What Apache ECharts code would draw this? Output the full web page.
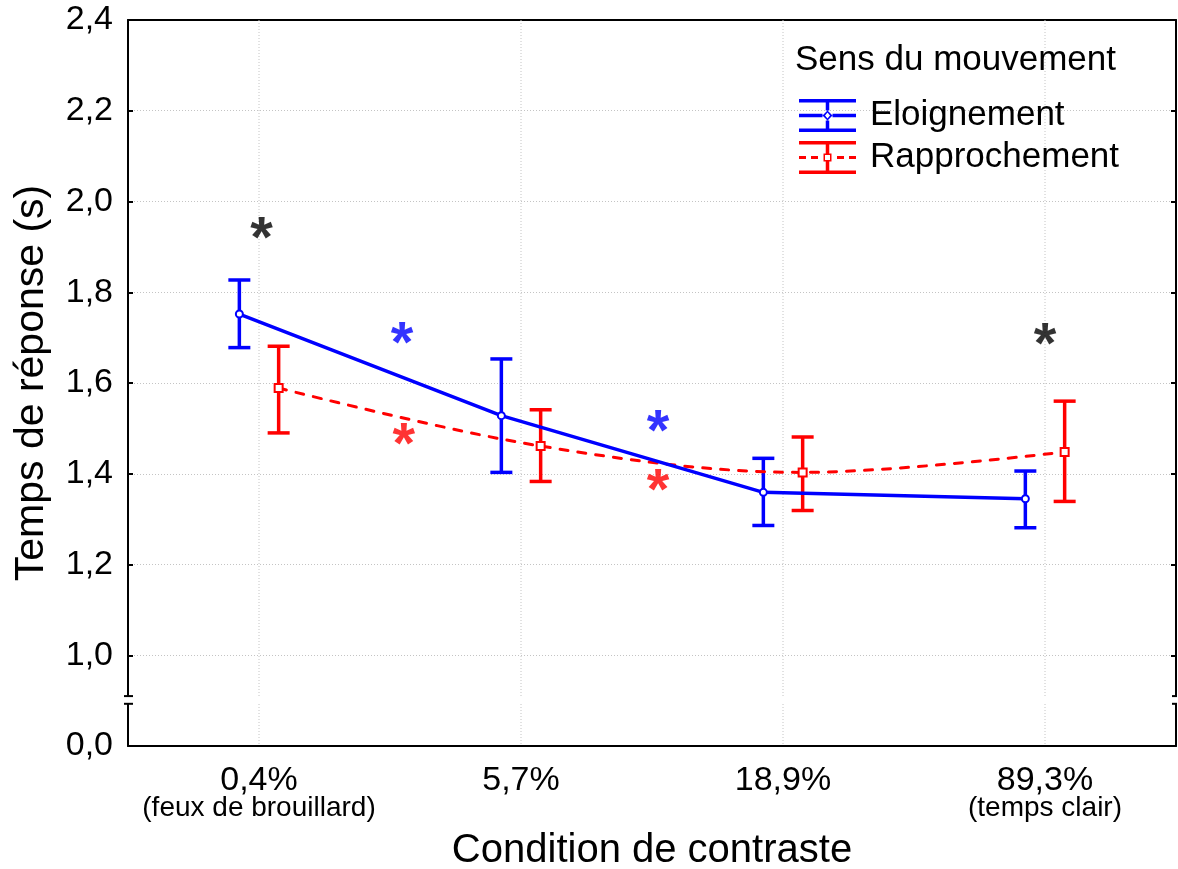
<!DOCTYPE html>
<html>
<head>
<meta charset="utf-8">
<script src="https://cdn.jsdelivr.net/npm/echarts@6/dist/echarts.min.js"></script>
<style>
html,body{margin:0;padding:0;background:#fff;}
#chart{width:1178px;height:869px;}
</style>
</head>
<body>
<div id="chart"></div>
<script>
// ---- data ----
const categories = ['0,4%', '5,7%', '18,9%', '89,3%'];
const subLabels = ['(feux de brouillard)', '', '', '(temps clair)'];
const seriesNames = ['Eloignement', 'Rapprochement'];
const eloMean = [1.752, 1.528, 1.359, 1.345];
const eloLow  = [1.678, 1.403, 1.286, 1.281];
const eloHigh = [1.827, 1.653, 1.434, 1.406];
const rapMean = [1.589, 1.461, 1.403, 1.448];
const rapLow  = [1.490, 1.383, 1.319, 1.339];
const rapHigh = [1.681, 1.541, 1.481, 1.560];
const yMin = 0.8, yMax = 2.4, yStep = 0.2;
const yMinLabel = '0,0';
const starX = [0.01, 0.546, 0.553, 1.523, 1.523, 3.0];
const starY = [1.930, 1.700, 1.476, 1.505, 1.375, 1.698];
const starGroup = ['both', 'elo', 'rap', 'elo', 'rap', 'both'];
const legendTitle = 'Sens du mouvement';
const xTitle = 'Condition de contraste';
const yTitle = 'Temps de réponse (s)';
const breakFrom = 0.893, breakTo = 0.910;

// ---- style ----
const FONT = "'Liberation Sans', Arial, sans-serif";
const BLUE = '#0000ff', RED = '#ff0000';
const GRID = '#c4c4c4';
const groupColor = { both: '#000000', elo: BLUE, rap: RED };
const OFF = 0.075;

const eloPts = eloMean.map((v, i) => [i - OFF, v]);
const rapPts = rapMean.map((v, i) => [i + OFF, v]);
const eloBars = eloMean.map((v, i) => [i - OFF, eloLow[i], eloHigh[i]]);
const rapBars = rapMean.map((v, i) => [i + OFF, rapLow[i], rapHigh[i]]);

function errRender(color) {
  return function (params, api) {
    const x = api.value(0);
    const lo = api.coord([x, api.value(1)]);
    const hi = api.coord([x, api.value(2)]);
    const hw = 11;
    const st = { stroke: color, lineWidth: 3.5 };
    return {
      type: 'group',
      children: [
        { type: 'line', shape: { x1: lo[0], y1: lo[1], x2: hi[0], y2: hi[1] }, style: st },
        { type: 'line', shape: { x1: lo[0] - hw, y1: lo[1], x2: lo[0] + hw, y2: lo[1] }, style: st },
        { type: 'line', shape: { x1: hi[0] - hw, y1: hi[1], x2: hi[0] + hw, y2: hi[1] }, style: st }
      ]
    };
  };
}

function vGridRender(params, api) {
  const cs = params.coordSys;
  const p = api.coord([api.value(0), yMin]);
  return {
    type: 'line',
    shape: { x1: p[0], y1: cs.y, x2: p[0], y2: cs.y + cs.height },
    style: { stroke: GRID, lineWidth: 1, lineDash: [1, 2] }
  };
}

// legend icon paths (57 x 33 box)
const iconElo = 'path://M0 0H57V3.5H0Z M0 29.5H57V33H0Z M0 14.75H23.5V18.25H0Z M33.5 14.75H57V18.25H33.5Z ' +
  'M26.75 0H30.25V11.5H26.75Z M26.75 21.5H30.25V33H26.75Z ' +
  'M28.5 11.5L33.5 16.5L28.5 21.5L23.5 16.5Z M28.5 13.5L26 16.5L28.5 19.5L31 16.5Z';
const iconRap = 'path://M0 0H57V3.5H0Z M0 29.5H57V33H0Z ' +
  'M0 15H7V18H0Z M12 15H19V18H12Z M38 15H45V18H38Z M50 15H57V18H50Z ' +
  'M26.75 0H30.25V12.5H26.75Z M26.75 20.5H30.25V33H26.75Z ' +
  'M24.5 12.5H32.5V20.5H24.5Z M26 19H31V14H26Z';

const chart = echarts.init(document.getElementById('chart'), null, { renderer: 'canvas' });

const axisLineBlack = { show: true, onZero: false, lineStyle: { color: '#000', width: 2 } };

const option = {
  backgroundColor: '#ffffff',
  animation: false,
  textStyle: { fontFamily: FONT },
  title: {
    text: legendTitle, left: 795, top: 43, padding: 0,
    textStyle: { fontFamily: FONT, fontSize: 35, fontWeight: 'normal', color: '#000' }
  },
  legend: {
    left: 799, top: 98, padding: 0, orient: 'vertical',
    itemWidth: 57, itemHeight: 33, itemGap: 7,
    textStyle: { fontFamily: FONT, fontSize: 35, color: '#000', padding: [0, 0, 0, 9] },
    data: [
      { name: seriesNames[0], icon: iconElo, itemStyle: { color: BLUE, borderWidth: 0 } },
      { name: seriesNames[1], icon: iconRap, itemStyle: { color: RED, borderWidth: 0 } }
    ]
  },
  grid: { left: 128, right: 2, top: 20, bottom: 123, containLabel: false, outerBoundsMode: 'none' },
  xAxis: [
    {
      type: 'category', data: categories, position: 'bottom', boundaryGap: true,
      axisLine: axisLineBlack,
      axisTick: { inside: true, length: 5, alignWithLabel: true, lineStyle: { color: '#000', width: 2 } },
      axisLabel: {
        margin: 21, color: '#000',
        formatter: function (v, i) {
          return subLabels[i] ? '{a|' + v + '}\n{b|' + subLabels[i] + '}' : '{a|' + v + '}';
        },
        rich: {
          a: { fontFamily: FONT, fontSize: 34, lineHeight: 28, color: '#000' },
          b: { fontFamily: FONT, fontSize: 28, lineHeight: 27, color: '#000' }
        }
      },
      splitLine: { show: false },
      name: xTitle, nameLocation: 'middle', nameGap: 85,
      nameTextStyle: { fontFamily: FONT, fontSize: 40, color: '#000' }
    },
    {
      type: 'category', data: categories, position: 'top', boundaryGap: true,
      axisLine: axisLineBlack,
      axisTick: { inside: true, length: 5, alignWithLabel: true, lineStyle: { color: '#000', width: 2 } },
      axisLabel: { show: false }, splitLine: { show: false }
    },
    { type: 'value', min: -0.5, max: 3.5, show: false, axisLine: { onZero: false }, splitLine: { show: false } }
  ],
  yAxis: [
    {
      type: 'value', min: yMin, max: yMax, interval: yStep, position: 'left',
      axisLine: axisLineBlack,
      axisTick: { show: true, inside: true, length: 5, lineStyle: { color: '#000', width: 2 } },
      axisLabel: {
        margin: 15, color: '#000', fontFamily: FONT, fontSize: 34,
        formatter: function (v) {
          if (Math.abs(v - yMin) < 1e-6) return yMinLabel;
          return v.toFixed(1).replace('.', ',');
        }
      },
      splitLine: { show: true, lineStyle: { color: GRID, width: 1, type: [1, 2] } },
      name: yTitle, nameLocation: 'middle', nameGap: 76,
      nameTextStyle: { fontFamily: FONT, fontSize: 41, color: '#000' }
    },
    {
      type: 'value', min: yMin, max: yMax, interval: yStep, position: 'right',
      axisLine: axisLineBlack,
      axisTick: { show: true, inside: true, length: 5, lineStyle: { color: '#000', width: 2 } },
      axisLabel: { show: false }, splitLine: { show: false }
    }
  ],
  series: [
    {
      name: 'grid-x', type: 'custom', xAxisIndex: 2, yAxisIndex: 0, silent: true, z: 1,
      renderItem: vGridRender, data: categories.map((c, i) => [i])
    },
    {
      name: seriesNames[0], type: 'custom', xAxisIndex: 2, yAxisIndex: 0,
      renderItem: errRender(BLUE), data: eloBars, z: 3, silent: true
    },
    {
      name: seriesNames[1], type: 'custom', xAxisIndex: 2, yAxisIndex: 0,
      renderItem: errRender(RED), data: rapBars, z: 3, silent: true
    },
    {
      name: seriesNames[1], type: 'line', xAxisIndex: 2, yAxisIndex: 0, data: rapPts,
      smooth: 0.35, symbol: 'emptyRect', symbolSize: 8, z: 4,
      lineStyle: { color: RED, width: 3, type: [8, 10], cap: 'round' },
      itemStyle: { color: RED, borderWidth: 1.5 }
    },
    {
      name: seriesNames[0], type: 'line', xAxisIndex: 2, yAxisIndex: 0, data: eloPts,
      symbol: 'emptyCircle', symbolSize: 7, z: 5,
      lineStyle: { color: BLUE, width: 3.5 },
      itemStyle: { color: BLUE, borderWidth: 1.5 }
    },
    {
      name: 'stars', type: 'scatter', xAxisIndex: 2, yAxisIndex: 0, symbolSize: 0, z: 6, silent: true,
      data: starX.map((x, i) => ({
        value: [x, starY[i]],
        label: { color: groupColor[starGroup[i]] }
      })),
      label: {
        show: true, position: 'inside', formatter: '*', offset: [0, 8],
        fontFamily: FONT, fontSize: 58, fontWeight: 'bold'
      }
    }
  ]
};

chart.setOption(option);

function drawBreak() {
  const xl = chart.convertToPixel({ xAxisIndex: 2 }, -0.5);
  const xr = chart.convertToPixel({ xAxisIndex: 2 }, 3.5);
  const y1 = chart.convertToPixel({ yAxisIndex: 0 }, breakTo);
  const y2 = chart.convertToPixel({ yAxisIndex: 0 }, breakFrom);
  const ls = { stroke: '#000', lineWidth: 2 };
  chart.setOption({
    graphic: [
      { type: 'rect', z: 100, silent: true, shape: { x: xl - 3, y: y1, width: xr - xl + 6, height: y2 - y1 }, style: { fill: '#fff' } },
      { type: 'line', z: 101, silent: true, shape: { x1: xl - 4, y1: y1, x2: xl + 5, y2: y1 }, style: ls },
      { type: 'line', z: 101, silent: true, shape: { x1: xl - 4, y1: y2, x2: xl + 5, y2: y2 }, style: ls },
      { type: 'line', z: 101, silent: true, shape: { x1: xr - 4, y1: y1, x2: xr + 1, y2: y1 }, style: ls },
      { type: 'line', z: 101, silent: true, shape: { x1: xr - 4, y1: y2, x2: xr + 1, y2: y2 }, style: ls }
    ]
  });
}
drawBreak();
</script>
</body>
</html>
